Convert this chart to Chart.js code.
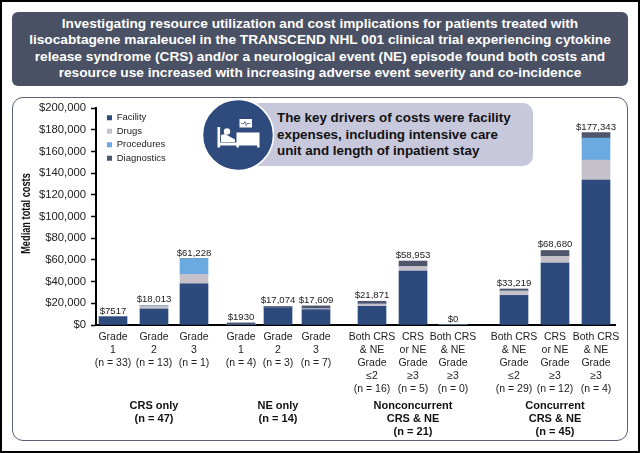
<!DOCTYPE html>
<html>
<head>
<meta charset="utf-8">
<script src="https://cdn.jsdelivr.net/npm/chart.js@4/dist/chart.umd.min.js"></script>
<style>
  body { margin: 0; background: #fff; font-family: "Liberation Sans", sans-serif; }
  #page { position: relative; width: 640px; height: 453px; overflow: hidden; }
  #frame { position: absolute; inset: 0; border: solid #000; border-width: 2px 2px 2px 2px; box-sizing: border-box; pointer-events: none; }
  #header { position: absolute; left: 12px; top: 12px; width: 616px; height: 74px; background: #4a5164; border-radius: 6px;
            color: #fff; font-weight: bold; font-size: 13.7px; line-height: 16.4px; text-align: center; padding-top: 4px; box-sizing: border-box; }
  #panel { position: absolute; left: 12px; top: 97px; width: 616px; height: 344px; border: 1.5px solid #5a6075; border-radius: 11px; box-sizing: border-box; }
  canvas { position: absolute; left: 0; top: 0; }
  #callout { position: absolute; left: 250px; top: 103px; width: 283px; height: 63px; background: #c7c8dc; border-radius: 10px;
             font-weight: bold; font-size: 13.4px; line-height: 16.5px; color: #111; padding: 7px 0 0 27px; box-sizing: border-box; }
  #icon { position: absolute; left: 202px; top: 99px; }
</style>
</head>
<body>
<div id="page">
  <div id="panel"></div>
  <canvas id="costChart" width="640" height="453"></canvas>
  <div id="header">Investigating resource utilization and cost implications for patients treated with<br>lisocabtagene maraleucel in the TRANSCEND NHL 001 clinical trial experiencing cytokine<br>release syndrome (CRS) and/or a neurological event (NE) episode found both costs and<br>resource use increased with increasing adverse event severity and co-incidence</div>
  <div id="callout">The key drivers of costs were facility<br>expenses, including intensive care<br>unit and length of inpatient stay</div>
  <svg id="icon" width="72" height="72" viewBox="0 0 72 72">
    <circle cx="36" cy="36" r="35.5" fill="#2f4a7c" stroke="#fff" stroke-width="1.5"/>
    <rect x="37.5" y="20" width="12.5" height="8.5" fill="#fff"/>
    <path d="M39 24.5h3l1-2 1.2 4 1-2h3" fill="none" stroke="#2f4a7c" stroke-width="0.7"/>
    <rect x="15.5" y="28" width="2.6" height="20.5" fill="#fff"/>
    <rect x="18" y="43.5" width="18" height="3" fill="#fff"/>
    <circle cx="25" cy="32.5" r="3.2" fill="#fff"/>
    <path d="M19 36l4-1 10 5.5v2.5H19z" fill="#fff"/>
    <rect x="34.5" y="33.5" width="23" height="13" fill="#fff"/>
    <rect x="34.5" y="46" width="2.4" height="2.5" fill="#fff"/>
    <rect x="55.1" y="46" width="2.4" height="2.5" fill="#fff"/>
  </svg>
  <div id="frame"></div>
</div>
<script>
const categories = [
  ["Grade", "1", "(n = 33)"], ["Grade", "2", "(n = 13)"], ["Grade", "3", "(n = 1)"],
  ["Grade", "1", "(n = 4)"], ["Grade", "2", "(n = 3)"], ["Grade", "3", "(n = 7)"],
  ["Both CRS", "& NE", "Grade", "≤2", "(n = 16)"], ["CRS", "or NE", "Grade", "≥3", "(n = 5)"], ["Both CRS", "& NE", "Grade", "≥3", "(n = 0)"],
  ["Both CRS", "& NE", "Grade", "≤2", "(n = 29)"], ["CRS", "or NE", "Grade", "≥3", "(n = 12)"], ["Both CRS", "& NE", "Grade", "≥3", "(n = 4)"]
];
const facility    = [7517, 14700, 38000, 300, 16000, 14100, 17200, 49800, 0, 27300, 57100, 133600];
const drugs       = [0, 3000, 8700, 0, 0, 900, 2100, 4200, 0, 4000, 6200, 18400];
const procedures  = [0, 0, 14528, 0, 0, 0, 0, 0, 0, 0, 0, 20300];
const diagnostics = [0, 313, 0, 1630, 1074, 2609, 2571, 4953, 0, 1919, 5380, 5043];
const totalLabels = ["$7517", "$18,013", "$61,228", "$1930", "$17,074", "$17,609", "$21,871", "$58,953", "$0", "$33,219", "$68,680", "$177,343"];
const yTicks = [0, 20000, 40000, 60000, 80000, 100000, 120000, 140000, 160000, 180000, 200000];

// where each bar sits along the x axis (bars are not evenly spaced, groups have gaps)
const slots = [17, 58, 98, 145, 182, 220, 276, 317, 357, 418, 459, 500];
const groupTitles = [
  { at: 58, lines: ["CRS only", "(n = 47)"] },
  { at: 182, lines: ["NE only", "(n = 14)"] },
  { at: 317, lines: ["Nonconcurrent", "CRS & NE", "(n = 21)"] },
  { at: 459, lines: ["Concurrent", "CRS & NE", "(n = 45)"] }
];

const series = (values) => values.map((v, i) => ({ x: slots[i], y: v }));

const barLabels = {
  id: "barLabels",
  afterDatasetsDraw(chart) {
    const { ctx, scales: { x, y } } = chart;
    ctx.save();
    ctx.font = "9.6px 'Liberation Sans'";
    ctx.fillStyle = "#222";
    ctx.textAlign = "center";
    ctx.textBaseline = "alphabetic";
    slots.forEach((s, i) => {
      const total = facility[i] + drugs[i] + procedures[i] + diagnostics[i];
      ctx.fillText(totalLabels[i], x.getPixelForValue(s), y.getPixelForValue(total) - 3);
    });
    ctx.font = "bold 11px 'Liberation Sans'";
    ctx.fillStyle = "#111";
    groupTitles.forEach(g => {
      g.lines.forEach((line, k) => ctx.fillText(line, x.getPixelForValue(g.at), 409 + k * 13));
    });
    // no narrow font installed, so squeeze the axis title
    ctx.translate(30, (y.top + y.bottom) / 2 - 3);
    ctx.rotate(-Math.PI / 2);
    ctx.scale(0.74, 1);
    ctx.font = "bold 12.5px 'Liberation Sans'";
    ctx.fillText("Median total costs", 0, 0);
    ctx.restore();
  }
};

const moveLegend = {
  id: "moveLegend",
  afterLayout(chart) {
    chart.legend.left = chart.chartArea.left + 7;
    chart.legend.top = chart.chartArea.top + 1;
  }
};

new Chart(document.getElementById("costChart").getContext("2d"), {
  type: "bar",
  data: {
    datasets: [
      { label: "Facility", data: series(facility), backgroundColor: "#2d4a7c" },
      { label: "Drugs", data: series(drugs), backgroundColor: "#c4c1cb" },
      { label: "Procedures", data: series(procedures), backgroundColor: "#6aaae0" },
      { label: "Diagnostics", data: series(diagnostics), backgroundColor: "#4f566b" }
    ]
  },
  options: {
    responsive: false,
    animation: false,
    barThickness: 28,
    layout: { padding: { top: 108, right: 25, bottom: 0, left: 0 } },
    plugins: {
      tooltip: { enabled: false },
      legend: {
        position: "chartArea",
        align: "start",
        labels: { boxWidth: 5, boxHeight: 5, padding: 4, color: "#222", font: { size: 9.5, family: "Liberation Sans" } }
      }
    },
    scales: {
      x: {
        type: "linear",
        stacked: true,
        offset: false,
        min: 0,
        max: 519,
        grid: { display: false, offset: false },
        border: { color: "#000", width: 2 },
        afterFit(axis) { axis.height = 128; },
        afterBuildTicks(axis) { axis.ticks = slots.map(v => ({ value: v })); },
        ticks: {
          autoSkip: false,
          maxRotation: 0,
          minRotation: 0,
          padding: -2,
          color: "#222",
          font: { size: 10.5, family: "Liberation Sans", lineHeight: "13px" },
          callback: (v) => categories[slots.indexOf(v)]
        }
      },
      y: {
        stacked: true,
        min: 0,
        max: 200000,
        afterFit(axis) { axis.width = 96; },
        afterBuildTicks(axis) { axis.ticks = yTicks.map(v => ({ value: v })); },
        grid: { drawOnChartArea: false, tickLength: 5, tickColor: "#000", tickWidth: 1.5 },
        border: { color: "#000", width: 2 },
        ticks: {
          padding: 5,
          color: "#222",
          font: { size: 11.3, family: "Liberation Sans" },
          callback: (v) => "$" + v.toLocaleString("en-US")
        }
      }
    }
  },
  plugins: [barLabels, moveLegend]
});
</script>
</body>
</html>
